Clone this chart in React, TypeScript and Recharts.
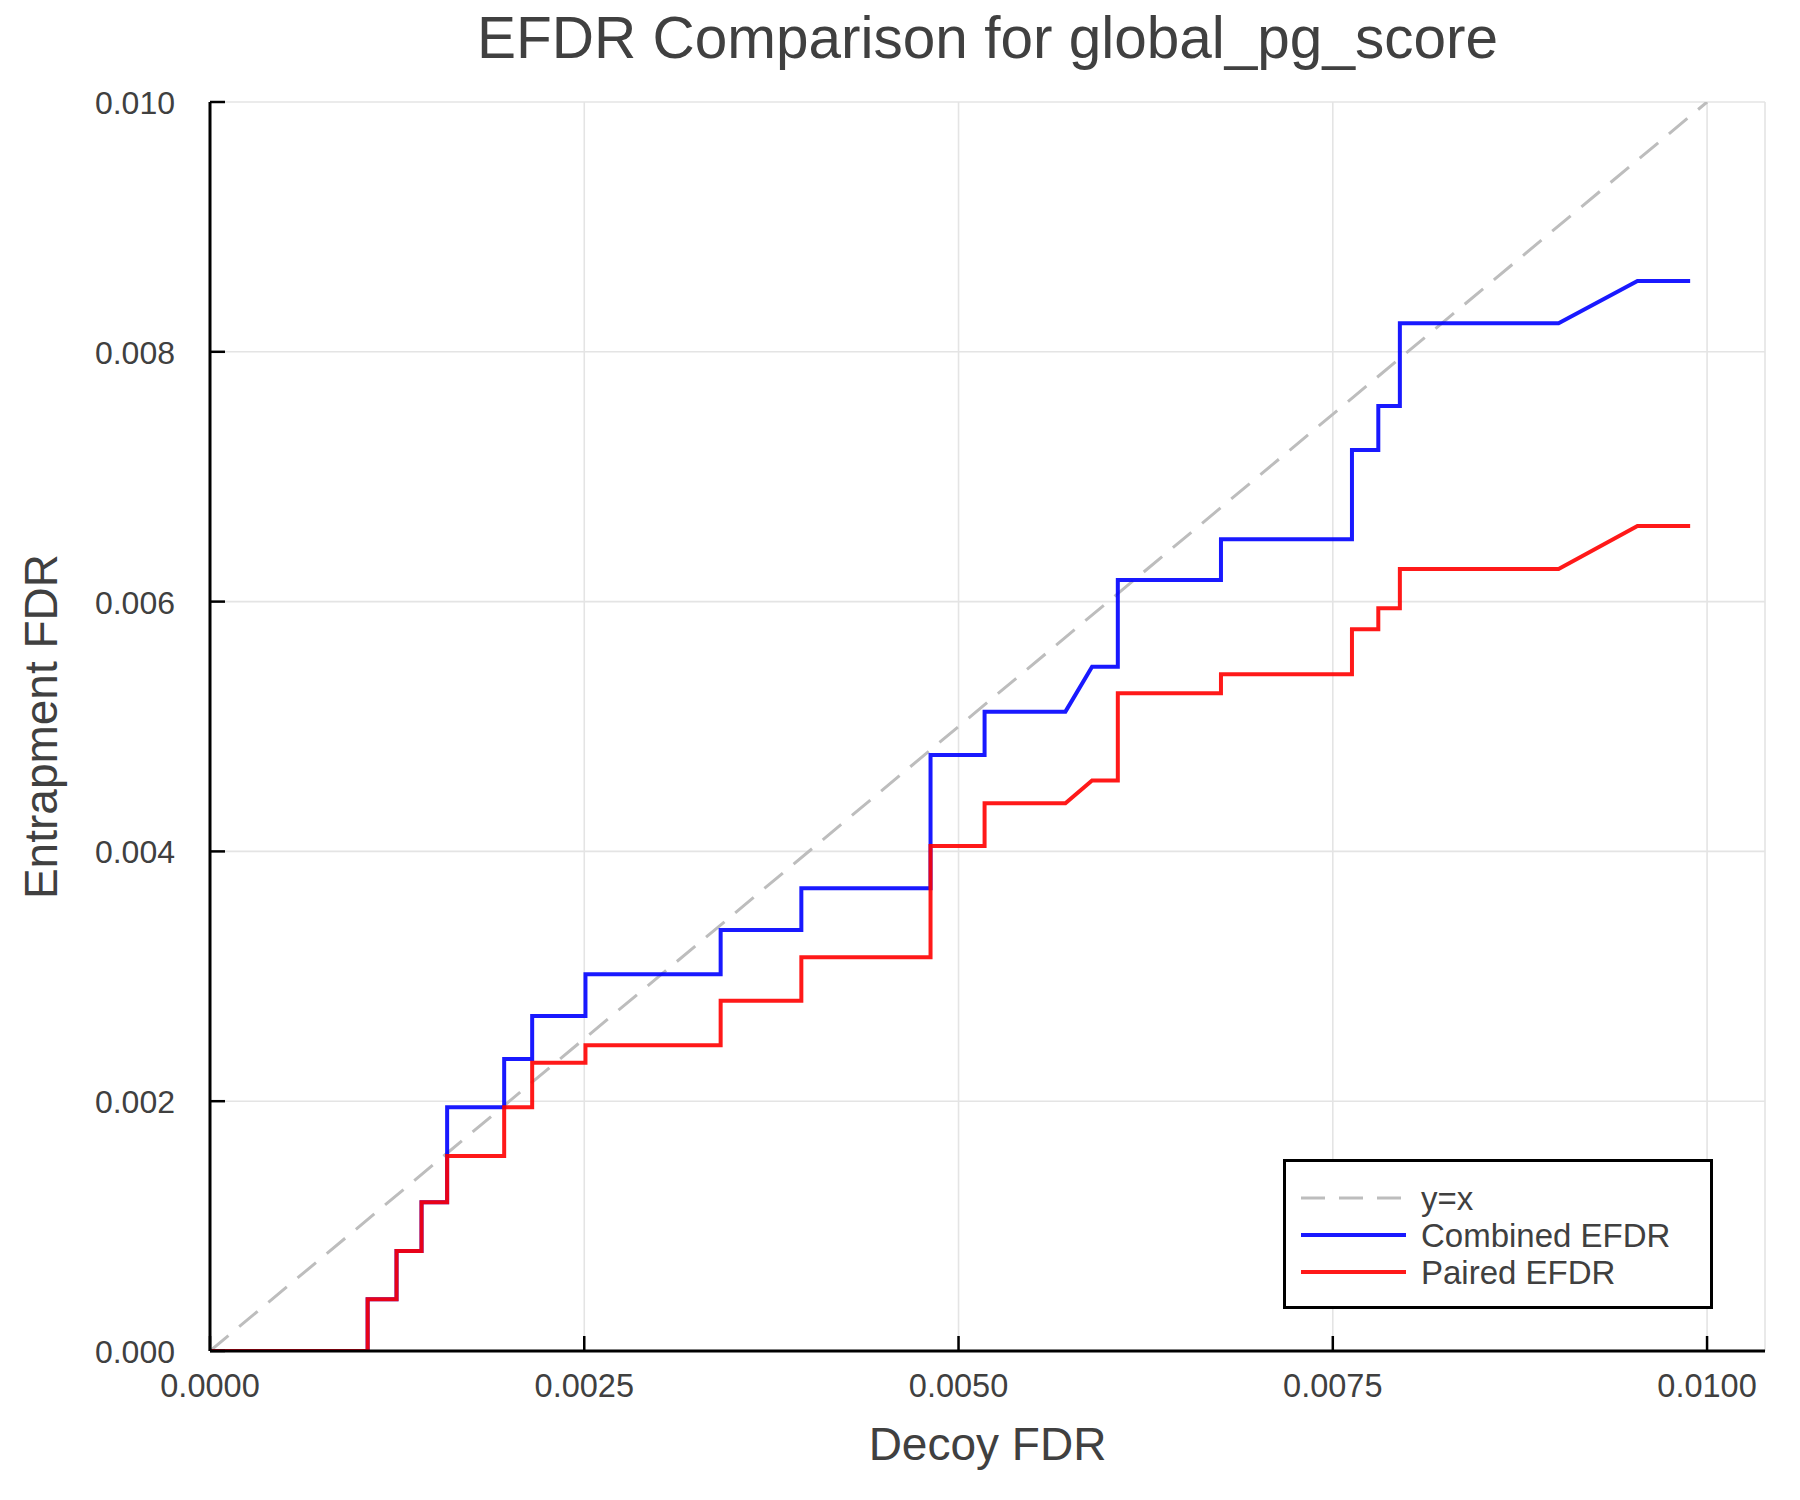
import React from "react"
import { LineChart, Line, XAxis, YAxis, CartesianGrid, Legend } from "recharts"

// vertices of the two EFDR step curves (shared decoy FDR positions)
const decoyFdr = [
  0, 0.001053, 0.001053, 0.001246, 0.001246, 0.001413, 0.001413, 0.001584, 0.001584,
  0.001965, 0.001965, 0.002152, 0.002152, 0.002508, 0.002508, 0.003411, 0.003411,
  0.00395, 0.00395, 0.004813, 0.004813, 0.005174, 0.005174, 0.005714, 0.005892,
  0.006064, 0.006064, 0.006753, 0.006753, 0.007628, 0.007628, 0.007804, 0.007804,
  0.007948, 0.007948, 0.009008, 0.009535, 0.009887,
]
const combinedEfdr = [
  0, 0, 0.000414, 0.000414, 0.000801, 0.000801, 0.00119, 0.00119, 0.001951,
  0.001951, 0.002338, 0.002338, 0.002682, 0.002682, 0.003016, 0.003016, 0.003371,
  0.003371, 0.003704, 0.003704, 0.004772, 0.004772, 0.005119, 0.005119, 0.005479,
  0.005479, 0.006173, 0.006173, 0.006499, 0.006499, 0.007214, 0.007214, 0.007566,
  0.007566, 0.008228, 0.008228, 0.008567, 0.008567,
]
const pairedEfdr = [
  0, 0, 0.000414, 0.000414, 0.000801, 0.000801, 0.00119, 0.00119, 0.001561,
  0.001561, 0.001951, 0.001951, 0.002308, 0.002308, 0.002447, 0.002447, 0.002805,
  0.002805, 0.003152, 0.003152, 0.004043, 0.004043, 0.004385, 0.004385, 0.004567,
  0.004567, 0.005266, 0.005266, 0.005418, 0.005418, 0.005778, 0.005778, 0.005946,
  0.005946, 0.006261, 0.006261, 0.006605, 0.006605,
]
const identityEnds = [0, 0.01]

const xTicks = [0, 0.0025, 0.005, 0.0075, 0.01]
const yTicks = [0, 0.002, 0.004, 0.006, 0.008, 0.01]
const seriesNames = ["y=x", "Combined EFDR", "Paired EFDR"]

const FONT = "'Liberation Sans', Arial, Helvetica, sans-serif"
const TEXT = "#404040"
const BLUE = "#0000ff"
const RED = "#ff0000"
const GREY = "#bdbdbd"

const chartData = decoyFdr.map((x, i) => ({
  x,
  combined: combinedEfdr[i],
  paired: pairedEfdr[i],
}))
const identityData = identityEnds.map((v) => ({ x: v, identity: v }))

function XTick({ x, y, payload }: any) {
  return (
    <g>
      <line x1={x} x2={x} y1={y} y2={y - 15} stroke="#000" strokeWidth={2.5} />
      <text x={x} y={y + 46} textAnchor="middle" fontSize={32.5} fill={TEXT} fontFamily={FONT}>
        {payload.value.toFixed(4)}
      </text>
    </g>
  )
}

function YTick({ x, y, payload }: any) {
  return (
    <g>
      <line x1={x} x2={x + 15} y1={y} y2={y} stroke="#000" strokeWidth={2.5} />
      <text x={x - 35} y={y + 12} textAnchor="end" fontSize={32} fill={TEXT} fontFamily={FONT}>
        {payload.value.toFixed(3)}
      </text>
    </g>
  )
}

function LegendBox() {
  const styles = [
    { stroke: GREY, dash: "24 14", width: 3, opacity: 1 },
    { stroke: BLUE, dash: undefined, width: 4, opacity: 0.9 },
    { stroke: RED, dash: undefined, width: 4, opacity: 0.9 },
  ]
  return (
    <svg width={430} height={150} style={{ display: "block" }}>
      <rect x={1.5} y={1.5} width={427} height={147} fill="#fff" stroke="#000" strokeWidth={3} />
      {seriesNames.map((name, i) => {
        const cy = 39 + i * 37
        const s = styles[i]
        return (
          <g key={name}>
            <line
              x1={18}
              x2={123}
              y1={cy}
              y2={cy}
              stroke={s.stroke}
              strokeWidth={s.width}
              strokeOpacity={s.opacity}
              strokeDasharray={s.dash}
            />
            <text x={138} y={cy + 12} fontSize={33} fill={TEXT} fontFamily={FONT}>
              {name}
            </text>
          </g>
        )
      })}
    </svg>
  )
}

export default function App() {
  return (
    <div style={{ position: "absolute", left: 0, top: 0, width: 1800, height: 1500, background: "#fff" }}>
      <div
        style={{
          position: "absolute",
          left: 210,
          top: 9,
          width: 1555,
          textAlign: "center",
          fontFamily: FONT,
          fontSize: 58.5,
          lineHeight: "58px",
          color: TEXT,
          zIndex: 2,
        }}
      >
        EFDR Comparison for global_pg_score
      </div>
      <LineChart width={1800} height={1500} margin={{ top: 102, right: 35, bottom: 89, left: 150 }}>
        <CartesianGrid stroke="#e4e4e4" strokeWidth={1.6} />
        <XAxis
          type="number"
          dataKey="x"
          domain={[0, 0.010387]}
          ticks={xTicks}
          interval={0}
          allowDataOverflow
          height={60}
          tickSize={0}
          tickMargin={0}
          tickLine={false}
          tick={<XTick />}
          axisLine={{ stroke: "#000", strokeWidth: 3 }}
          label={(props: any) => {
            const { x, y, width } = props.viewBox
            return (
              <text x={x + width / 2} y={y + 109} textAnchor="middle" fontSize={46} fill={TEXT} fontFamily={FONT}>
                Decoy FDR
              </text>
            )
          }}
        />
        <YAxis
          type="number"
          domain={[0, 0.01]}
          ticks={yTicks}
          interval={0}
          allowDataOverflow
          width={60}
          tickSize={0}
          tickMargin={0}
          tickLine={false}
          tick={<YTick />}
          axisLine={{ stroke: "#000", strokeWidth: 3 }}
          label={(props: any) => {
            const { y, height } = props.viewBox
            const cy = y + height / 2
            return (
              <text
                x={57}
                y={cy}
                transform={`rotate(-90, 57, ${cy})`}
                textAnchor="middle"
                fontSize={46}
                fill={TEXT}
                fontFamily={FONT}
              >
                Entrapment FDR
              </text>
            )
          }}
        />
        <Line
          data={identityData}
          dataKey="identity"
          name={seriesNames[0]}
          type="linear"
          stroke={GREY}
          strokeWidth={3}
          strokeDasharray="24 14"
          dot={false}
          activeDot={false}
          isAnimationActive={false}
        />
        <Line
          data={chartData}
          dataKey="combined"
          name={seriesNames[1]}
          type="linear"
          stroke={BLUE}
          strokeOpacity={0.9}
          strokeWidth={4}
          dot={false}
          activeDot={false}
          isAnimationActive={false}
        />
        <Line
          data={chartData}
          dataKey="paired"
          name={seriesNames[2]}
          type="linear"
          stroke={RED}
          strokeOpacity={0.9}
          strokeWidth={4}
          dot={false}
          activeDot={false}
          isAnimationActive={false}
        />
        <Legend
          layout="horizontal"
          verticalAlign="middle"
          align="center"
          wrapperStyle={{ left: 1283, top: 1159, width: 430, height: 150 }}
          content={() => <LegendBox />}
        />
      </LineChart>
    </div>
  )
}
